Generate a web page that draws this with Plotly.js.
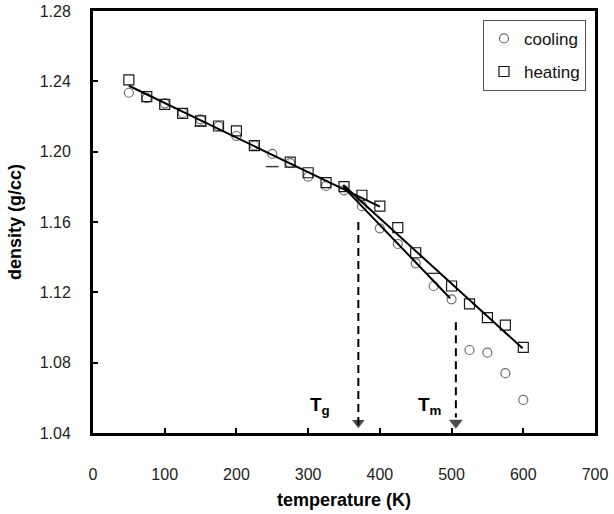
<!DOCTYPE html>
<html>
<head>
<meta charset="utf-8">
<script src="https://cdn.plot.ly/plotly-3.0.1.min.js"></script>
<style>
  html, body { margin: 0; padding: 0; background: #fff; }
  #chart { width: 614px; height: 514px; }
</style>
</head>
<body>
<div id="chart"></div>
<script>
// ---- data ----
var coolingT = [50, 75, 100, 125, 150, 175, 200, 225, 250, 275, 300, 325, 350, 375, 400, 425, 450, 475, 500, 525, 550, 575, 600];
var coolingDensity = [1.2335, 1.2304, 1.2275, 1.2220, 1.2184, 1.2145, 1.2089, 1.2035, 1.1987, 1.1935, 1.1858, 1.1805, 1.1780, 1.1690, 1.1564, 1.1475, 1.1365, 1.1236, 1.1160, 1.0872, 1.0857, 1.0740, 1.0588];

var heatingT = [50, 75, 100, 125, 150, 175, 200, 225, 275, 300, 325, 350, 375, 400, 425, 450, 500, 525, 550, 575, 600];
var heatingDensity = [1.2408, 1.2313, 1.2269, 1.2218, 1.2175, 1.2146, 1.2118, 1.2034, 1.1940, 1.1880, 1.1824, 1.1801, 1.1752, 1.1690, 1.1568, 1.1425, 1.1236, 1.1134, 1.1056, 1.1014, 1.0887];

// stray short dashes visible in the picture
var dashT = [150, 250, 475];
var dashDensity = [1.2145, 1.1915, 1.1308];

// fitted lines
var fitGlassT = [50, 400];
var fitGlassDensity = [1.2375, 1.1687];
var fitCoolT = [349, 498];
var fitCoolDensity = [1.1800, 1.1166];
var fitHeatT = [349, 599];
var fitHeatDensity = [1.1810, 1.0882];

// transition temperatures
var Tg = 370;
var Tm = 506;
var TgTop = 1.160;
var TmTop = 1.103;

var yMin = 1.04, yMax = 1.28;
var xMin = 0, xMax = 700;

var FONT = 'Liberation Sans, Arial, sans-serif';

// arrow tips sit a few pixels above the x axis
var arrowY = yMin + (yMax - yMin) * 0.016;

var traces = [
  {
    x: coolingT, y: coolingDensity, name: 'cooling', type: 'scatter', mode: 'markers',
    legendgroup: 'c',
    marker: { symbol: 'circle-open', size: 9, color: '#6e6e6e', line: { width: 1.2, color: '#6e6e6e' } }
  },
  {
    x: heatingT, y: heatingDensity, name: 'heating', type: 'scatter', mode: 'markers',
    legendgroup: 'h',
    marker: { symbol: 'square-open', size: 10, color: '#1a1a1a', line: { width: 1.2, color: '#1a1a1a' } }
  },
  {
    x: dashT, y: dashDensity, type: 'scatter', mode: 'markers', showlegend: false, hoverinfo: 'skip',
    marker: { symbol: 'line-ew-open', size: 9, color: '#333', line: { width: 1.4, color: '#333' } }
  },
  {
    x: fitGlassT, y: fitGlassDensity, type: 'scatter', mode: 'lines', showlegend: false,
    line: { color: '#000', width: 2 }
  },
  {
    x: fitCoolT, y: fitCoolDensity, type: 'scatter', mode: 'lines', showlegend: false,
    line: { color: '#000', width: 2 }
  },
  {
    x: fitHeatT, y: fitHeatDensity, type: 'scatter', mode: 'lines', showlegend: false,
    line: { color: '#000', width: 2 }
  },
  {
    x: [Tg, Tg], y: [TgTop, arrowY], type: 'scatter', mode: 'lines', showlegend: false,
    line: { color: '#000', width: 2, dash: '8px,5px' }
  },
  {
    x: [Tm, Tm], y: [TmTop, arrowY + 0.005], type: 'scatter', mode: 'lines', showlegend: false,
    line: { color: '#000', width: 2, dash: '8px,5px' }
  },
  {
    x: [Tg, Tm], y: [arrowY + 0.002, arrowY + 0.002], type: 'scatter', mode: 'markers', showlegend: false,
    marker: { symbol: 'triangle-down', size: [11, 12], color: '#000', line: { width: 0 } }
  }
];

var layout = {
  width: 614, height: 514,
  margin: { l: 93, r: 19, t: 11, b: 81, pad: 0 },
  paper_bgcolor: '#fff', plot_bgcolor: '#fff',
  font: { family: FONT, color: '#222' },
  showlegend: true,
  legend: {
    x: 0.982, y: 0.979, xanchor: 'right', yanchor: 'top',
    bordercolor: '#555', borderwidth: 1, bgcolor: '#fff',
    font: { family: FONT, size: 17, color: '#111' },
    tracegroupgap: 8
  },
  xaxis: {
    range: [xMin, xMax], tick0: 0, dtick: 100,
    ticks: 'inside', ticklen: 5, tickwidth: 2, tickcolor: '#000',
    showline: true, linewidth: 3, linecolor: '#000', mirror: true,
    showgrid: false, zeroline: false,
    tickfont: { family: FONT, size: 16, color: '#222' },
    ticklabelstandoff: 25,
    title: { text: 'temperature (K)', font: { family: FONT, size: 18, color: '#000', weight: 'bold' }, standoff: 12 }
  },
  yaxis: {
    range: [yMin, yMax], tick0: 1.04, dtick: 0.04, tickformat: '.2f',
    ticks: 'inside', ticklen: 5, tickwidth: 2, tickcolor: '#000',
    showline: true, linewidth: 3, linecolor: '#000', mirror: true,
    showgrid: false, zeroline: false,
    tickfont: { family: FONT, size: 16, color: '#222' },
    ticklabelstandoff: 16,
    title: { text: 'density (g/cc)', font: { family: FONT, size: 18, color: '#000', weight: 'bold' }, standoff: 14 }
  },
  annotations: [
    { x: Tg, y: 1.0555, xref: 'x', yref: 'y', xshift: -38, showarrow: false,
      text: '<b>T<sub>g</sub></b>', font: { family: FONT, size: 19, color: '#000' } },
    { x: Tm, y: 1.0555, xref: 'x', yref: 'y', xshift: -26, showarrow: false,
      text: '<b>T<sub>m</sub></b>', font: { family: FONT, size: 19, color: '#000' } }
  ]
};

Plotly.newPlot('chart', traces, layout, { displayModeBar: false, staticPlot: true });
</script>
</body>
</html>
